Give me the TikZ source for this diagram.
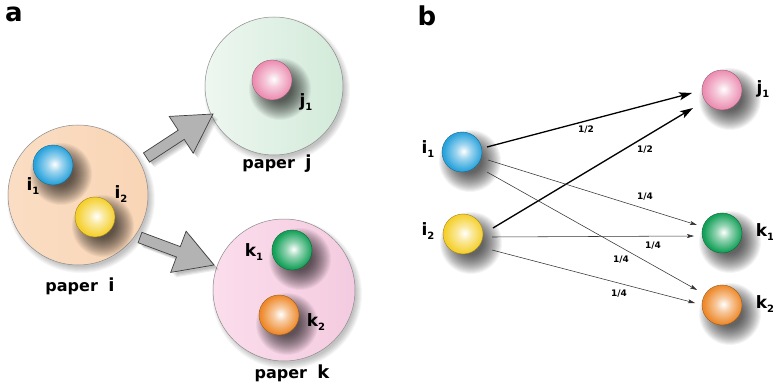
\documentclass[tikz,border=0pt]{standalone}
\usepackage{fontspec}
\setmainfont{DejaVu Sans}
\usetikzlibrary{shadows.blur,arrows.meta}
\definecolor{cblue}{HTML}{2BA3DC}
\definecolor{cyellow}{HTML}{F5D02E}
\definecolor{cpink}{HTML}{EC8FB2}
\definecolor{cgreen}{HTML}{15A159}
\definecolor{corange}{HTML}{EE8A2C}
\definecolor{peach}{HTML}{F9D5B5}
\definecolor{mintL}{HTML}{EEF7F0}
\definecolor{mintR}{HTML}{D2EAD9}
\definecolor{roseL}{HTML}{FBDDEC}
\definecolor{roseR}{HTML}{F4CBE0}
\definecolor{arrowgrey}{HTML}{B3B3B3}
\colorlet{ballc}{cblue}
\pgfdeclareradialshading[ballc]{myball}{\pgfpoint{2bp}{1bp}}{color(0bp)=(white); color(9bp)=(ballc!45!white); color(24bp)=(ballc); color(44bp)=(ballc!92!black); color(50bp)=(ballc!75!black)}
\newcommand{\sublab}[2]{#1\raisebox{-0.4ex}{\fontsize{10}{10}\selectfont #2}}
\tikzset{
  ball/.style={circle, minimum size=40pt, inner sep=0pt, draw=#1!65!black, line width=0.4pt,
    /utils/exec={\colorlet{ballc}{#1}}, shade, shading=myball},
  shlayer/.style={fill=black, opacity=#1, draw=none},
  bigc/.style 2 args={circle, inner sep=0pt, draw=black!45, line width=0.5pt, left color=#1, right color=#2},
  blockarr/.style={fill=arrowgrey, draw=black!75, line width=0.7pt, line join=miter},
  ballname/.style={font=\bfseries\fontsize{17}{17}\selectfont, inner sep=0pt},
  papername/.style={font=\bfseries\fontsize{16}{16}\selectfont, inner sep=0pt},
  panel/.style={font=\bfseries\fontsize{26}{26}\selectfont, inner sep=0pt, anchor=base},
  thickarr/.style={line width=1.3pt, black, -{Stealth[length=13pt, width=8pt, inset=3pt]}},
  thinarr/.style={line width=0.55pt, black!80, -{Stealth[length=7pt, width=4pt, inset=1.5pt]}},
  wlab/.style={font=\bfseries\fontsize{9}{9}\selectfont, inner sep=0pt}
}
% soft shadows made of stacked translucent discs
\newcommand{\ballshadow}[1]{\foreach \rr in {12,13,...,31}{\fill[shlayer=0.045] ([shift={(8,9)}]#1.center) circle (\rr);}}
\newcommand{\bigcircshadow}[2]{\foreach \rr in {0,1,...,6}{\fill[shlayer=0.035] ([shift={(3,4)}]#1.center) circle (#2+\rr);}}
\begin{document}
\begin{tikzpicture}[x=1pt,y=-1pt]
\fill[white] (0,0) rectangle (773,385);
\useasboundingbox (0,0) rectangle (773,385);

% ---------- panel a ----------
\node[panel] (la) at (14,22) {a};

\coordinate (cpi) at (78,195);
\coordinate (cpj) at (274,86);
\coordinate (cpk) at (284,290);
\bigcircshadow{cpi}{68}
\bigcircshadow{cpj}{67}
\bigcircshadow{cpk}{69}
\node[bigc={peach!80!white}{peach}, minimum size=140pt] (pi) at (cpi) {};
\node[bigc={mintL}{mintR}, minimum size=138pt] (pj) at (cpj) {};
\node[bigc={roseL}{roseR}, minimum size=142pt] (pk) at (cpk) {};

% block arrows with a soft shadow
\foreach \dd in {2,3,4,5}{
  \fill[shlayer=0.07, shift={(\dd,\dd)}] (143.5,152.9) -- (178.2,130.2) -- (169.2,116.4) -- (213,114) -- (193.2,153.2) -- (184.2,139.4) -- (149.5,162.1) -- cycle;
  \fill[shlayer=0.07, shift={(\dd,\dd)}] (141.9,232.3) -- (180.3,246.6) -- (186.1,231.2) -- (214,265) -- (170.7,272.4) -- (176.5,257.0) -- (138.1,242.7) -- cycle;
}
\draw[blockarr] (143.5,152.9) -- (178.2,130.2) -- (169.2,116.4) -- (213,114) -- (193.2,153.2) -- (184.2,139.4) -- (149.5,162.1) -- cycle;
\draw[blockarr] (141.9,232.3) -- (180.3,246.6) -- (186.1,231.2) -- (214,265) -- (170.7,272.4) -- (176.5,257.0) -- (138.1,242.7) -- cycle;

\coordinate (cai1) at (53,165);
\coordinate (cai2) at (95,217);
\coordinate (caj1) at (272,80);
\coordinate (cak1) at (292,250);
\coordinate (cak2) at (279,315);
\ballshadow{cai1}\ballshadow{cai2}\ballshadow{caj1}\ballshadow{cak1}\ballshadow{cak2}
\node[ball=cblue] (ai1) at (cai1) {};
\node[ball=cyellow] (ai2) at (cai2) {};
\node[ball=cpink] (aj1) at (caj1) {};
\node[ball=cgreen] (ak1) at (cak1) {};
\node[ball=corange] (ak2) at (cak2) {};

\node[ballname] (tai1) at (33,186) {\sublab{i}{1}};
\node[ballname] (tai2) at (121,194) {\sublab{i}{2}};
\node[ballname] (taj1) at (306,102) {\sublab{j}{1}};
\node[ballname] (tak1) at (254,252) {\sublab{k}{1}};
\node[ballname] (tak2) at (316,322) {\sublab{k}{2}};

\node[papername] (ppi) at (80,286) {paper\hspace{0.65em}\fontsize{18}{18}\selectfont i};
\node[papername] (ppj) at (277,164) {paper\hspace{0.65em}\fontsize{18}{18}\selectfont j};
\node[papername] (ppk) at (292,373) {paper\hspace{0.65em}\fontsize{18}{18}\selectfont k};

% ---------- panel b ----------
\node[panel] (lb) at (427,26) {b};

\coordinate (ci1) at (462,152);
\coordinate (ci2) at (463,234);
\coordinate (cj1) at (722,90);
\coordinate (ck1) at (722,233);
\coordinate (ck2) at (722,305);
\ballshadow{ci1}\ballshadow{ci2}\ballshadow{cj1}\ballshadow{ck1}\ballshadow{ck2}
\node[ball=cblue] (i1) at (ci1) {};
\node[ball=cyellow] (i2) at (ci2) {};
\node[ball=cpink] (j1) at (cj1) {};
\node[ball=cgreen] (k1) at (ck1) {};
\node[ball=corange] (k2) at (ck2) {};

\node[ballname] (ti1) at (428,149) {\sublab{i}{1}};
\node[ballname] (ti2) at (428,231) {\sublab{i}{2}};
\node[ballname] (tj1) at (763,89) {\sublab{j}{1}};
\node[ballname] (tk1) at (765,232) {\sublab{k}{1}};
\node[ballname] (tk2) at (765,304) {\sublab{k}{2}};

\draw[thickarr] ([shift={(25,-5)}]i1.center) -- ([shift={(-30,3)}]j1.center);
\draw[thickarr] ([shift={(30,-6)}]i2.center) -- ([shift={(-29,18)}]j1.center);
\draw[thinarr] ([shift={(26,8)}]i1.center) -- ([shift={(-25,-8)}]k1.center);
\draw[thinarr] ([shift={(25,20)}]i1.center) -- ([shift={(-25,-15)}]k2.center);
\draw[thinarr] ([shift={(29,3)}]i2.center) -- ([shift={(-28,3)}]k1.center);
\draw[thinarr] ([shift={(29,16)}]i2.center) -- ([shift={(-27,-2)}]k2.center);

\node[wlab] (w1) at (586,130) {1/2};
\node[wlab] (w2) at (645,150) {1/2};
\node[wlab] (w3) at (645,197) {1/4};
\node[wlab] (w4) at (653,246) {1/4};
\node[wlab] (w5) at (621,260) {1/4};
\node[wlab] (w6) at (619,294) {1/4};
\end{tikzpicture}
\end{document}
